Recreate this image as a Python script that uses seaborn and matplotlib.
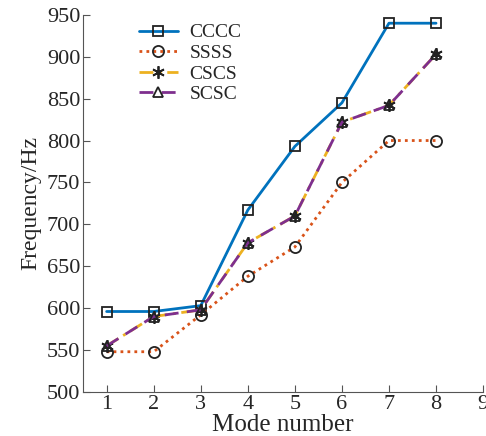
import numpy as np
import pandas as pd
import matplotlib
matplotlib.use('Agg')
import matplotlib.pyplot as plt
import seaborn as sns

# mode frequencies
modes = [1, 2, 3, 4, 5, 6, 7, 8]
cccc = [596, 596, 603, 717, 793, 845, 940, 940]
ssss = [548, 548, 592, 638, 673, 750, 800, 800]
cscs = [555, 590, 598, 678, 710, 822, 842, 903]
scsc = [555, 590, 598, 678, 710, 822, 842, 903]

sns.set_style('ticks')
plt.rcParams['font.family'] = ['Liberation Serif', 'DejaVu Serif']
plt.rcParams['xtick.direction'] = 'in'
plt.rcParams['ytick.direction'] = 'in'

data = pd.DataFrame({'mode': modes * 4,
                     'freq': cccc + ssss + cscs + scsc,
                     'case': ['CCCC'] * 8 + ['SSSS'] * 8 + ['CSCS'] * 8 + ['SCSC'] * 8})

styles = {
    'CCCC': dict(color='#0072BD', linestyle='-', marker='s', markersize=7),
    'SSSS': dict(color='#D95319', linestyle=(0, (1, 1.5)), marker='o', markersize=8),
    'CSCS': dict(color='#EDB120', linestyle=(0, (5, 2, 1, 2)), marker=(6, 2, 0), markersize=9),
    'SCSC': dict(color='#7E2F8E', linestyle=(0, (5, 3)), marker='^', markersize=7),
}

fig = plt.figure(figsize=(4.86, 4.36), dpi=100)
ax = fig.add_axes([0.171, 0.101, 0.823, 0.865])

for name, st in styles.items():
    sub = data[data['case'] == name]
    sns.lineplot(data=sub, x='mode', y='freq', ax=ax, label=name,
                 color=st['color'], linestyle=st['linestyle'], linewidth=2,
                 marker=st['marker'], markersize=st['markersize'],
                 markerfacecolor='none', markeredgecolor='#222222',
                 markeredgewidth=1.3)

ax.set_xlim(0.5, 9)
ax.set_ylim(500, 950)
ax.set_xticks(range(1, 10))
ax.set_yticks(range(500, 951, 50))
ax.tick_params(labelsize=16, length=5, color='#555555', pad=2)
ax.set_xlabel('Mode number', fontsize=18, labelpad=0)
ax.set_ylabel('Frequency/Hz', fontsize=17, labelpad=4)
for s in ['left', 'bottom']:
    ax.spines[s].set_color('#555555')
sns.despine(ax=ax)

ax.legend(loc='upper left', bbox_to_anchor=(0.11, 1.007), frameon=False,
          fontsize=14, handlelength=2.0, handletextpad=0.6,
          labelspacing=0.15, borderaxespad=0.2)

fig.savefig('out.png', dpi=100)
